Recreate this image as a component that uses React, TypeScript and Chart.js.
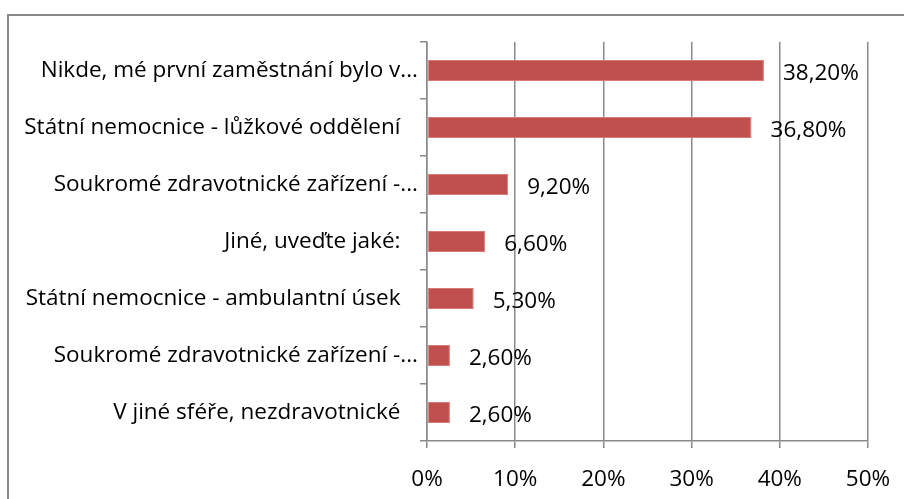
import React, { useEffect, useRef } from "react";
import { Chart, registerables } from "chart.js";

Chart.register(...registerables);

const categories = [
  "Nikde, mé první zaměstnání bylo v...",
  "Státní nemocnice - lůžkové oddělení",
  "Soukromé zdravotnické zařízení -...",
  "Jiné, uveďte jaké:",
  "Státní nemocnice - ambulantní úsek",
  "Soukromé zdravotnické zařízení -...",
  "V jiné sféře, nezdravotnické",
];
const values = [38.2, 36.8, 9.2, 6.6, 5.3, 2.6, 2.6];
const valueLabels = ["38,20%", "36,80%", "9,20%", "6,60%", "5,30%", "2,60%", "2,60%"];
const xMin = 0;
const xMax = 50;
const xStep = 10;

const FONT = "'Open Sans', Lato, sans-serif";
const FS = 22.5;
const GRID = "#8a8a8a";

const dataLabelPlugin = {
  id: "dataLabels",
  afterDatasetsDraw(chart: any) {
    const ctx = chart.ctx;
    const meta = chart.getDatasetMeta(0);
    ctx.save();
    ctx.font = `${FS}px ${FONT}`;
    ctx.fillStyle = "#000";
    ctx.textAlign = "left";
    ctx.textBaseline = "middle";
    meta.data.forEach((bar: any, i: number) => {
      ctx.fillText(valueLabels[i], bar.x + 19, bar.y + 3);
    });
    ctx.restore();
  },
};

export default function App() {
  const ref = useRef<HTMLCanvasElement | null>(null);
  useEffect(() => {
    if (!ref.current) return;
    const chart = new Chart(ref.current, {
      type: "bar",
      data: {
        labels: categories,
        datasets: [
          {
            data: values,
            backgroundColor: "#C0504D",
            borderColor: "#D77A77",
            borderWidth: 1,
            borderSkipped: false,
            categoryPercentage: 1,
            barPercentage: 0.37,
          },
        ],
      },
      options: {
        indexAxis: "y",
        animation: false,
        responsive: false,
        maintainAspectRatio: false,
        layout: { padding: { top: 42, right: 36, bottom: 0, left: 0 } },
        plugins: {
          legend: { display: false },
          tooltip: { enabled: false },
        },
        scales: {
          x: {
            min: xMin,
            max: xMax,
            afterFit: (s: any) => {
              s.height = 58;
              s.paddingRight = 0;
              s.paddingLeft = 0;
            },
            ticks: {
              stepSize: xStep,
              padding: 18,
              color: "#000",
              font: { family: FONT, size: FS },
              callback: (v: any) => `${v}%`,
            },
            grid: {
              color: GRID,
              lineWidth: 1.5,
              tickLength: 7,
              drawTicks: true,
            },
            border: { color: GRID, width: 1.5 },
          },
          y: {
            afterFit: (s: any) => {
              s.width = 427;
            },
            ticks: {
              padding: 2,
              color: "#000",
              font: { family: FONT, size: FS },
              callback: (_v: any, i: number) => {
                const l = categories[i];
                return l.endsWith("...") ? l : l + "   ";
              },
            },
            grid: {
              offset: true,
              drawOnChartArea: false,
              color: GRID,
              lineWidth: 1.5,
              tickLength: 7,
            },
            border: { color: GRID, width: 1.5 },
          },
        },
      },
      plugins: [dataLabelPlugin],
    });
    return () => chart.destroy();
  }, []);

  return (
    <div
      style={{
        position: "fixed",
        left: 0,
        top: 0,
        width: 904,
        height: 499,
        overflow: "hidden",
        background: "#fff",
      }}
    >
      <div
        style={{
          position: "absolute",
          left: 7,
          top: 14,
          width: 940,
          height: 540,
          borderLeft: "2px solid #888",
          borderTop: "2px solid #888",
        }}
      />
      <canvas
        ref={ref}
        width={904}
        height={499}
        style={{ position: "absolute", left: 0, top: 0, width: 904, height: 499 }}
      />
    </div>
  );
}
